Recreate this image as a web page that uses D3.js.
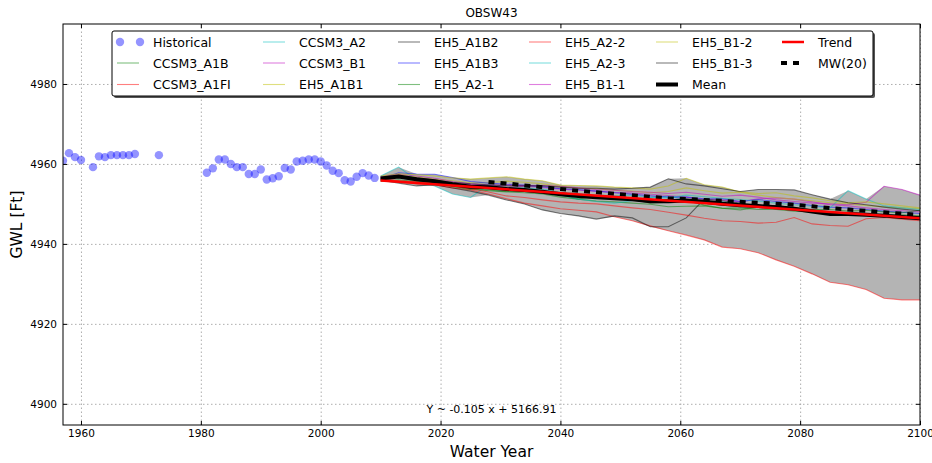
<!DOCTYPE html>
<html>
<head>
<meta charset="utf-8">
<script src="https://cdn.jsdelivr.net/npm/d3@7"></script>
<style>
  body { margin: 0; background: #fff; }
  text { font-family: "DejaVu Sans", sans-serif; fill: #000; }
</style>
</head>
<body>
<svg id="chart"></svg>
<script>
// ---- data ----
const histYears = [1957, 1958, 1959, 1960, 1962, 1963, 1964, 1965, 1966, 1967, 1968, 1969, 1973,
  1981, 1982, 1983, 1984, 1985, 1986, 1987, 1988, 1989, 1990, 1991, 1992, 1993, 1994, 1995,
  1996, 1997, 1998, 1999, 2000, 2001, 2002, 2003, 2004, 2005, 2006, 2007, 2008, 2009];
const histValues = [4960.8, 4962.7, 4961.7, 4961.0, 4959.2, 4961.9, 4961.7, 4962.2, 4962.2, 4962.2, 4962.2, 4962.5, 4962.2,
  4957.8, 4958.9, 4961.1, 4961.1, 4960.0, 4959.2, 4959.2, 4957.5, 4957.5, 4958.6, 4956.1, 4956.4, 4956.9, 4959.0, 4958.6,
  4960.6, 4960.8, 4961.1, 4961.1, 4960.6, 4959.6, 4958.3, 4957.7, 4955.9, 4955.6, 4956.8, 4957.7, 4957.1, 4956.5];

const projYears = [2010, 2013, 2016, 2019, 2022, 2025, 2028, 2031, 2034, 2037, 2040, 2043, 2046, 2049, 2052,
  2055, 2058, 2061, 2064, 2067, 2070, 2073, 2076, 2079, 2082, 2085, 2088, 2091, 2094, 2097, 2100];

const scenarioNames = ["CCSM3_A1B", "CCSM3_A1FI", "CCSM3_A2", "CCSM3_B1", "EH5_A1B1", "EH5_A1B2",
  "EH5_A1B3", "EH5_A2-1", "EH5_A2-2", "EH5_A2-3", "EH5_B1-1", "EH5_B1-2", "EH5_B1-3"];

const ccsm3A1B  = [4955.6, 4956, 4955.6, 4955, 4954.4, 4953.8, 4953.3, 4953, 4952.8, 4952.5, 4951.7, 4951.2, 4950.7, 4950.5, 4950.2, 4949.9, 4949.3, 4949.4, 4949.5, 4948.9, 4949, 4948.6, 4948.6, 4948.2, 4948, 4947.6, 4947.4, 4947.6, 4947.2, 4947.3, 4947];
const ccsm3A1FI = [4956, 4955.5, 4955, 4954.8, 4954, 4953.5, 4952.5, 4951.3, 4950.2, 4949.5, 4948.8, 4948.4, 4948, 4946.8, 4945.8, 4944.5, 4943.3, 4942.2, 4941, 4939.2, 4938.8, 4937.8, 4936, 4934.4, 4932.5, 4930.4, 4929.8, 4928.6, 4926.4, 4926, 4926];
const ccsm3A2   = [4957, 4959.2, 4956, 4954.5, 4952.5, 4951.6, 4954.8, 4954, 4954, 4953.7, 4952.9, 4952.6, 4952.2, 4952, 4952.2, 4951.6, 4951.9, 4951.1, 4950.3, 4950.5, 4950, 4949.6, 4948.8, 4948.5, 4948.2, 4948, 4947.6, 4947.4, 4947.3, 4947, 4946.8];
const ccsm3B1   = [4956.2, 4957, 4956.5, 4955.8, 4955.2, 4954.8, 4954.5, 4954.1, 4954.4, 4954.1, 4953.7, 4953.4, 4953.2, 4952.9, 4952.7, 4952.4, 4952.1, 4951.7, 4951.1, 4951, 4950.5, 4951.3, 4951.5, 4951.2, 4950.5, 4949.8, 4949.5, 4949, 4948.6, 4948.3, 4948];
const eh5A1B1   = [4956.2, 4957.2, 4956.8, 4956.2, 4955.8, 4955.3, 4955.3, 4955.7, 4955.4, 4955, 4954.4, 4954, 4953.8, 4953.4, 4953.2, 4952.8, 4953.1, 4954, 4953.3, 4952.7, 4952.9, 4952.2, 4951.6, 4951.2, 4950.8, 4950.3, 4950, 4949.6, 4949.3, 4949.1, 4948.8];
const eh5A1B2   = [4956, 4955.2, 4954.5, 4954.8, 4954, 4953.2, 4952.2, 4951, 4950, 4948.5, 4947.6, 4947, 4946.2, 4947, 4946.5, 4944.3, 4944.3, 4946.5, 4951.2, 4950.8, 4950.2, 4949.5, 4949.6, 4949, 4948.6, 4948, 4947.8, 4947.5, 4947.2, 4946.8, 4946.6];
const eh5A1B3   = [4956.3, 4957.8, 4957.5, 4957.4, 4956.6, 4955.6, 4955.2, 4954.9, 4954.7, 4954.3, 4953.8, 4953.6, 4953.2, 4952.8, 4952.4, 4952, 4951.7, 4951.7, 4951.3, 4951.3, 4950.6, 4951.1, 4950.6, 4950.2, 4949.6, 4949.2, 4949, 4948.6, 4948.2, 4947.9, 4947.6];
const eh5A2_1   = [4956, 4956.6, 4955.8, 4955.2, 4954.3, 4953.6, 4953.5, 4953.1, 4953.1, 4952.7, 4952.3, 4951.2, 4952.1, 4951.7, 4951.2, 4950.2, 4950.4, 4951, 4949.7, 4948.9, 4948.5, 4949.2, 4949.4, 4948.8, 4948.6, 4948.6, 4948.2, 4948.4, 4948, 4947.8, 4948.4];
const eh5A2_2   = [4956.5, 4955.8, 4955.5, 4955.2, 4954.5, 4953.8, 4953, 4952, 4951.6, 4951, 4950.5, 4950.2, 4950, 4949.5, 4949, 4948.6, 4947.9, 4947.2, 4946.4, 4945.8, 4945.6, 4945.2, 4945.4, 4946.6, 4945, 4944.6, 4944.4, 4946.3, 4946.6, 4946.2, 4945.8];
const eh5A2_3   = [4956.4, 4956.8, 4956, 4955.6, 4955, 4954.2, 4954, 4953.7, 4953.5, 4953.3, 4952.2, 4951.2, 4950.6, 4950.2, 4950.8, 4951.6, 4951.5, 4952.2, 4951.8, 4951.4, 4951.1, 4950.7, 4950.2, 4949.8, 4949.4, 4949, 4953.3, 4951.2, 4949.5, 4949, 4948.6];
const eh5B1_1   = [4956.8, 4957.4, 4957, 4956.4, 4955.6, 4955, 4954.7, 4954.7, 4954.6, 4954.6, 4954.4, 4954, 4953.6, 4953.4, 4953.1, 4952.9, 4952.6, 4952.9, 4952.4, 4951.9, 4952.2, 4951.7, 4951, 4950.6, 4950.2, 4950, 4949.8, 4950.4, 4954.4, 4953.6, 4952.2];
const eh5B1_2   = [4957, 4957.5, 4957.3, 4957, 4956.5, 4956.2, 4956.5, 4956.8, 4956.2, 4955.8, 4954.7, 4954.6, 4954.5, 4954.2, 4954, 4953.7, 4954.5, 4956.4, 4954.8, 4954.2, 4953, 4952.6, 4952.8, 4952, 4951.5, 4950.8, 4950.3, 4950.5, 4950, 4949.5, 4949];
const eh5B1_3   = [4956.5, 4957, 4956.5, 4956, 4955.4, 4955, 4954.8, 4954.5, 4954.5, 4954.5, 4954.2, 4953.9, 4953.9, 4953.7, 4953.9, 4954.2, 4956.3, 4955, 4954.5, 4953.8, 4953.1, 4953.6, 4953.6, 4953.5, 4952.3, 4951.2, 4950.3, 4949.8, 4949.2, 4948.7, 4948.3];

const scenarioValues = [ccsm3A1B, ccsm3A1FI, ccsm3A2, ccsm3B1, eh5A1B1, eh5A1B2,
  eh5A1B3, eh5A2_1, eh5A2_2, eh5A2_3, eh5B1_1, eh5B1_2, eh5B1_3];

// linear trend of the mean, as printed on the chart
const trendSlope = -0.105;
const trendIntercept = 5166.91;
const windowYears = 20;

const xTicks = [1960, 1980, 2000, 2020, 2040, 2060, 2080, 2100];
const yTicks = [4900, 4920, 4940, 4960, 4980];

// ---- styles ----
const scenarioColors = ["#008000", "#ff0000", "#00bfbf", "#bf00bf", "#bfbf00", "#000000",
  "#0000ff", "#008000", "#ff0000", "#00bfbf", "#bf00bf", "#bfbf00", "#000000"];

// size
const width = 932;
const height = 463;
const margin = { top: 24, right: 12, bottom: 38, left: 63 };
const innerWidth = width - margin.left - margin.right;
const innerHeight = height - margin.top - margin.bottom;

const svg = d3.select("#chart")
    .attr("width", width)
    .attr("height", height);

svg.append("rect").attr("width", width).attr("height", height).attr("fill", "#fff");

svg.append("defs")
    .append("clipPath")
    .attr("id", "clip")
    .append("rect")
    .attr("width", innerWidth)
    .attr("height", innerHeight);

const g = svg.append("g")
    .attr("transform", `translate(${margin.left},${margin.top})`);

const xScale = d3.scaleLinear().domain([1957, 2100]).range([0, innerWidth]);
const yScale = d3.scaleLinear().domain([4894.7, 4995]).range([innerHeight, 0]);

// grid
g.append("g")
    .attr("class", "grid")
    .attr("transform", `translate(0,${innerHeight})`)
    .call(d3.axisBottom(xScale).tickValues(xTicks).tickSize(-innerHeight).tickFormat(""))
    .call(s => s.select(".domain").remove());
g.append("g")
    .attr("class", "grid")
    .call(d3.axisLeft(yScale).tickValues(yTicks).tickSize(-innerWidth).tickFormat(""))
    .call(s => s.select(".domain").remove());
g.selectAll(".grid text").remove();
g.selectAll(".grid line")
    .attr("stroke", "#999")
    .attr("stroke-width", 0.8)
    .attr("stroke-dasharray", "1.5,2.5");

// derived series: ensemble stats
const proj = projYears.map((yr, i) => {
    const vals = scenarioValues.map(s => s[i]);
    return { year: yr, min: d3.min(vals), max: d3.max(vals), mean: d3.mean(vals) };
});
const mw = proj
    .filter(d => d.year - projYears[0] >= windowYears - 2)
    .map(d => ({
        year: d.year,
        value: d3.mean(proj.filter(p => p.year > d.year - windowYears && p.year <= d.year), p => p.mean)
    }));

const plotArea = g.append("g").attr("clip-path", "url(#clip)");

// envelope
plotArea.append("path")
    .datum(proj)
    .attr("fill", "#b4b4b4")
    .attr("d", d3.area()
        .x(d => xScale(d.year))
        .y0(d => yScale(d.min))
        .y1(d => yScale(d.max)));

// scenarios
const line = d3.line()
    .x(d => xScale(d[0]))
    .y(d => yScale(d[1]));

plotArea.selectAll("path.scenario")
    .data(scenarioValues)
    .enter()
    .append("path")
    .attr("class", "scenario")
    .attr("fill", "none")
    .attr("stroke", (d, i) => scenarioColors[i])
    .attr("stroke-opacity", 0.5)
    .attr("stroke-width", 1.1)
    .attr("d", d => line(d.map((v, i) => [projYears[i], v])));

// historical
plotArea.selectAll("circle.hist")
    .data(histYears)
    .enter()
    .append("circle")
    .attr("class", "hist")
    .attr("cx", d => xScale(d))
    .attr("cy", (d, i) => yScale(histValues[i]))
    .attr("r", 4.2)
    .attr("fill", "#0000ff")
    .attr("fill-opacity", 0.42);

// mean
plotArea.append("path")
    .datum(proj)
    .attr("fill", "none")
    .attr("stroke", "#000")
    .attr("stroke-width", 4)
    .attr("d", d3.line().x(d => xScale(d.year)).y(d => yScale(d.mean)));

// moving window
plotArea.append("path")
    .datum(mw)
    .attr("fill", "none")
    .attr("stroke", "#000")
    .attr("stroke-width", 4)
    .attr("stroke-dasharray", "6,6")
    .attr("d", d3.line().x(d => xScale(d.year)).y(d => yScale(d.value)));

// trend
const trendYears = [projYears[0], projYears[projYears.length - 1]];
plotArea.append("path")
    .datum(trendYears)
    .attr("fill", "none")
    .attr("stroke", "#ff0000")
    .attr("stroke-width", 2.5)
    .attr("d", d3.line().x(d => xScale(d)).y(d => yScale(trendSlope * d + trendIntercept)));

// equation text
g.append("text")
    .attr("x", innerWidth / 2)
    .attr("y", yScale(4900) + 9)
    .attr("text-anchor", "middle")
    .style("font-size", "11px")
    .text(`Y ~ ${trendSlope} x + ${trendIntercept}`);

// axes with inward ticks
const axisStyle = s => {
    s.selectAll("text").style("font-size", "10.5px").style("font-family", "DejaVu Sans, sans-serif").attr("fill", "#000");
    s.selectAll("line").attr("stroke", "#000");
    s.select(".domain").remove();
};
const noLabels = s => s.selectAll("text").remove();
g.append("g")
    .attr("transform", `translate(0,${innerHeight})`)
    .call(d3.axisBottom(xScale).tickValues(xTicks).tickSize(-4).tickPadding(5).tickFormat(d3.format("d")))
    .call(axisStyle);
g.append("g")
    .call(d3.axisTop(xScale).tickValues(xTicks).tickSize(-4))
    .call(axisStyle)
    .call(noLabels);
g.append("g")
    .call(d3.axisLeft(yScale).tickValues(yTicks).tickSize(-4).tickPadding(6).tickFormat(d3.format("d")))
    .call(axisStyle);
g.append("g")
    .attr("transform", `translate(${innerWidth},0)`)
    .call(d3.axisRight(yScale).tickValues(yTicks).tickSize(-4))
    .call(axisStyle)
    .call(noLabels);

// frame
g.append("rect")
    .attr("width", innerWidth)
    .attr("height", innerHeight)
    .attr("fill", "none")
    .attr("stroke", "#000")
    .attr("stroke-width", 1);

// labels
svg.append("text")
    .attr("x", margin.left + innerWidth / 2)
    .attr("y", 17)
    .attr("text-anchor", "middle")
    .style("font-size", "12px")
    .text("OBSW43");
svg.append("text")
    .attr("x", margin.left + innerWidth / 2)
    .attr("y", 457)
    .attr("text-anchor", "middle")
    .style("font-size", "15.5px")
    .text("Water Year");
svg.append("text")
    .attr("transform", `translate(22, ${margin.top + innerHeight / 2}) rotate(-90)`)
    .attr("text-anchor", "middle")
    .style("font-size", "15.5px")
    .text("GWL [Ft]");

// legend
const legendItems = [{ name: "Historical", type: "dots" }]
    .concat(scenarioNames.map((n, i) => ({ name: n, type: "line", color: scenarioColors[i] })))
    .concat([
        { name: "Mean", type: "mean" },
        { name: "Trend", type: "trend" },
        { name: "MW(20)", type: "mw" }
    ]);
const colX = [117, 263, 398, 529, 656, 782];
const rowY = [42, 63, 84.5];

const legend = svg.append("g").attr("class", "legend");
legend.append("rect")
    .attr("x", 114).attr("y", 33).attr("width", 761).attr("height", 65)
    .attr("rx", 2).attr("fill", "#555");
legend.append("rect")
    .attr("x", 112).attr("y", 31).attr("width", 761).attr("height", 65)
    .attr("rx", 2).attr("fill", "#fff").attr("stroke", "#000").attr("stroke-width", 1);

legendItems.forEach((d, i) => {
    const cx = colX[Math.floor(i / 3)];
    const cy = rowY[i % 3];
    const item = legend.append("g");
    if (d.type === "dots") {
        [cx + 3, cx + 23].forEach(px => item.append("circle")
            .attr("cx", px).attr("cy", cy).attr("r", 4.2)
            .attr("fill", "#0000ff").attr("fill-opacity", 0.42));
    } else {
        const ln = item.append("line")
            .attr("x1", cx).attr("x2", cx + 22).attr("y1", cy).attr("y2", cy);
        if (d.type === "line") ln.attr("stroke", d.color).attr("stroke-opacity", 0.5).attr("stroke-width", 1.1);
        if (d.type === "mean") ln.attr("stroke", "#000").attr("stroke-width", 4);
        if (d.type === "trend") ln.attr("stroke", "#ff0000").attr("stroke-width", 2.5);
        if (d.type === "mw") ln.attr("stroke", "#000").attr("stroke-width", 4).attr("stroke-dasharray", "6,6").attr("x1", cx - 1);
    }
    item.append("text")
        .attr("x", cx + 36)
        .attr("y", cy + 4.5)
        .style("font-size", "12.5px")
        .text(d.name);
});
</script>
</body>
</html>
